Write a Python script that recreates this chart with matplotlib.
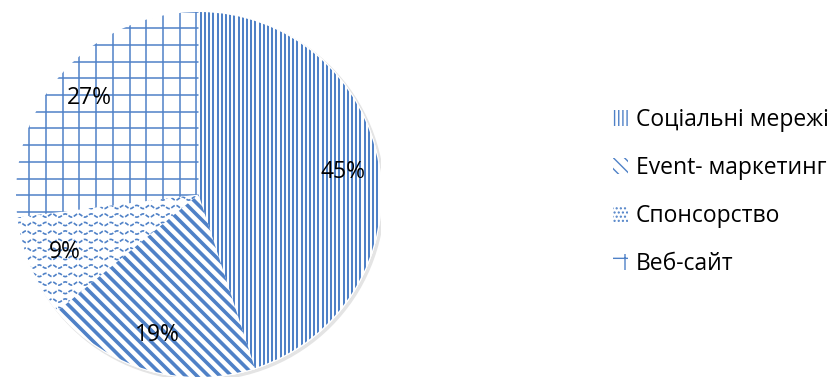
import numpy as np
import matplotlib
matplotlib.use('Agg')
import matplotlib.pyplot as plt
from matplotlib.patches import Patch, Circle
from matplotlib.collections import LineCollection

categories = ['Соціальні мережі', 'Event- маркетинг', 'Спонсорство', 'Веб-сайт']
shares = [45, 19, 9, 27]
legend_hatches = ['||||', '\\\\\\', '....', '+']

BLUE = '#4f81c7'
PX = 182.5  # pie radius in pixels, data unit = radius

plt.rcParams['font.family'] = ['Open Sans', 'DejaVu Sans']

fig = plt.figure(figsize=(8.36, 3.81), dpi=100)
W, H = 836, 381
ax = fig.add_axes([16 / W, (H - 12 - 365) / H, 365 / W, 365 / H])

ax.add_patch(Circle((0.012, -0.012), 1.0, facecolor='none',
                    edgecolor='#e4e4e4', lw=2.5, zorder=0))

wedges, _, pct = ax.pie(
    shares, startangle=90, counterclock=False, radius=1,
    autopct='%d%%', pctdistance=0.8,
    wedgeprops=dict(facecolor='white', edgecolor='white', linewidth=1.5),
    textprops=dict(fontsize=16.5, color='black'),
)


def fill_lines(segs, wedge, lw):
    lc = LineCollection(segs, colors=BLUE, linewidths=lw, zorder=2)
    ax.add_collection(lc)
    lc.set_clip_path(wedge)


# social networks: dense vertical stripes
xs = np.arange(-1.0, 1.0, 4.2 / PX)
fill_lines([[(x, -1.1), (x, 1.1)] for x in xs], wedges[0], 1.45)

# event marketing: thick diagonal stripes
cs = np.arange(-2.2, 2.2, 11.5 / PX)
fill_lines([[(-1.2, 1.2 + c), (1.2, -1.2 + c)] for c in cs], wedges[1], 2.6)

# sponsorship: wavy rows
wave_x = np.linspace(-1.05, 1.05, 1500)
waves = []
for i, y0 in enumerate(np.arange(-1.0, 1.0, 8.5 / PX)):
    phase = 0 if i % 2 == 0 else np.pi
    wy = y0 + 1.6 / PX * np.sin(wave_x * 2 * np.pi / (13.0 / PX) + phase)
    waves.append(np.column_stack([wave_x, wy]))
lc = LineCollection(waves, colors=BLUE, linewidths=1.2, linestyles=(0, (2.5, 1)),
                    zorder=2)
ax.add_collection(lc)
lc.set_clip_path(wedges[2])

# web site: square grid
gx = (46 - 198.5) / PX + np.arange(-12, 12) * 16.7 / PX
gy = (194.5 - 95) / PX + np.arange(-14, 12) * 16.7 / PX
grid = [[(x, -1.1), (x, 1.1)] for x in gx] + [[(-1.1, y), (1.1, y)] for y in gy]
fill_lines(grid, wedges[3], 1.1)

# white outlines between slices
ax.pie(shares, startangle=90, counterclock=False, radius=1,
       wedgeprops=dict(fill=False, edgecolor='white', linewidth=1.5))
for t in pct:
    t.set_zorder(5)

ax.set_xlim(-1, 1)
ax.set_ylim(-1, 1)
ax.set_aspect('equal')
ax.axis('off')

handles = [Patch(facecolor='white', edgecolor=BLUE, linewidth=0, hatch=h)
           for h in legend_hatches]
fig.legend(handles, categories, loc='center left',
           bbox_to_anchor=(592 / W, 1 - 192 / H), frameon=False,
           fontsize=16.5, handlelength=0.65, handleheight=0.65,
           handletextpad=0.35, labelspacing=1.05)

fig.savefig('out.png', dpi=100)
